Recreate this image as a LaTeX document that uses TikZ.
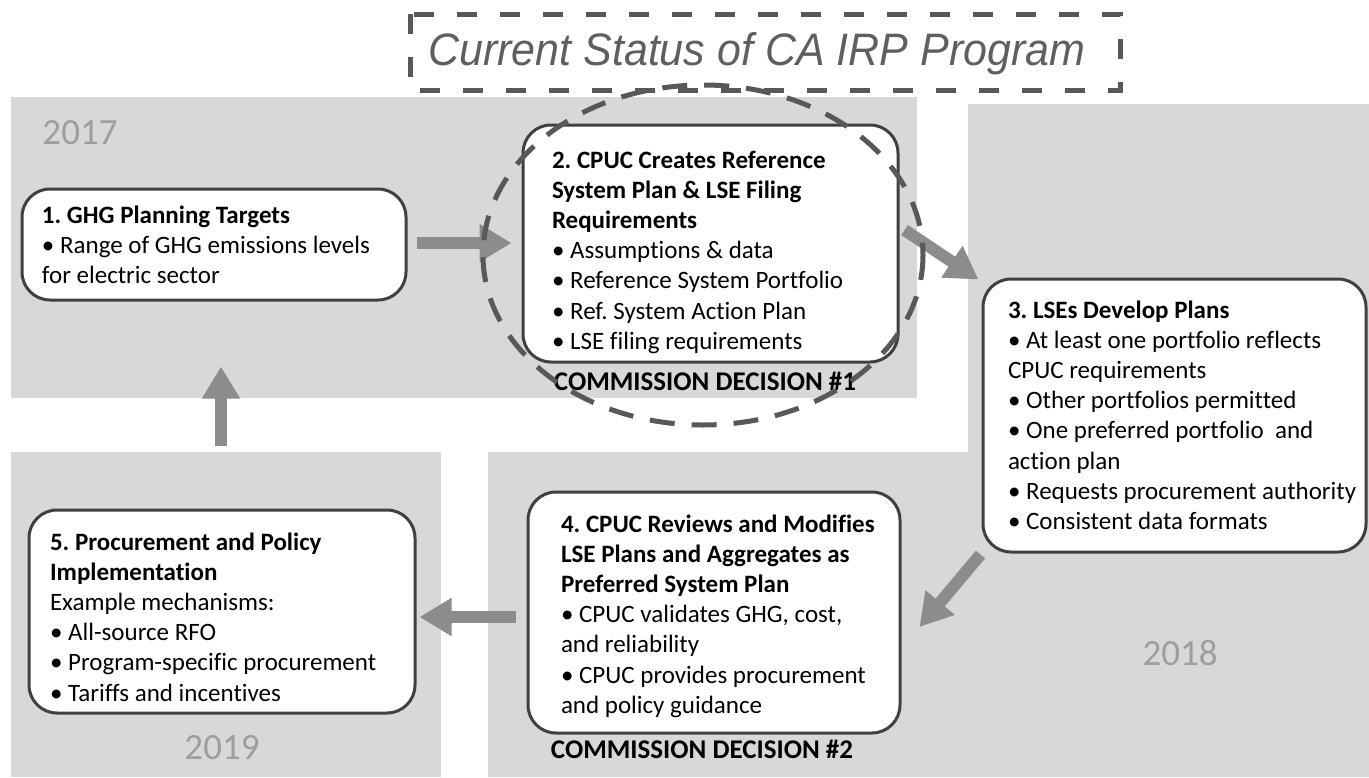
\documentclass[tikz,border=0pt]{standalone}
\usepackage{fontspec}
\setmainfont{Carlito}[Ligatures=CommonOff]
\newfontfamily\titlefont[FakeStretch=0.945]{Liberation Sans}
\usetikzlibrary{arrows.meta,calc}
\definecolor{panel}{RGB}{216,216,216}
\definecolor{edge}{RGB}{64,64,64}
\definecolor{arrgray}{RGB}{140,140,140}
\definecolor{yeargray}{RGB}{158,158,158}
\definecolor{dashgray}{RGB}{88,88,88}
\definecolor{titlegray}{RGB}{95,95,95}
\frenchspacing
\begin{document}
\begin{tikzpicture}[x=1pt,y=-1pt,
  box/.style={draw=edge,line width=3pt,fill=white,rounded corners=28pt,
    inner sep=0pt,align=flush left,font=\fontsize{25}{30.2}\selectfont},
  lpad/.style={execute at begin node={\leftskip=#1pt}},
  fat/.style={draw=arrgray,line width=12pt,-{Triangle[length=32pt,width=36pt]}},
  yr/.style={text=yeargray,font=\fontsize{37}{40}\selectfont},
  dec/.style={anchor=base,font=\fontsize{27}{30}\selectfont\bfseries}]
 \useasboundingbox (0,0) rectangle (1369,777);
 % year panels
 \fill[panel] (11,97) rectangle (917,398);
 \fill[panel] (11,452) rectangle (441,777);
 \fill[panel] (968,104) -- (1369,104) -- (1369,777) -- (488,777) -- (488,452) -- (968,452) -- cycle;
 \node[yr] (y17) at (80,133) {2017};
 \node[yr] (y18) at (1180,653) {2018};
 \node[yr] (y19) at (222,748) {2019};
 % the five steps
 \node[box,lpad=20,text width=384pt,text height=34pt,text depth=77pt] (b1) at (214,244.5)
  {\textbf{1. GHG Planning Targets}\\
   • Range of GHG emissions levels\\
   for electric sector};
 \node[box,lpad=29,text width=375pt,text height=43pt,text depth=194pt] (b2) at (710.5,243.5)
  {\textbf{2. CPUC Creates Reference}\\
   \textbf{System Plan \& LSE Filing}\\
   \textbf{Requirements}\\
   • Assumptions \& data\\
   • Reference System Portfolio\\
   • Ref. System Action Plan\\
   • LSE filing requirements};
 \node[box,lpad=25,text width=383pt,text height=39pt,text depth=234pt] (b3) at (1174.5,415.5)
  {\textbf{3. LSEs Develop Plans}\\
   • At least one portfolio reflects\\
   CPUC requirements\\
   • Other portfolios permitted\\
   • One preferred portfolio ~and\\
   action plan\\
   • Requests procurement authority\\
   • Consistent data formats};
 \node[box,lpad=33,text width=372pt,text height=40pt,text depth=201pt] (b4) at (714,612.5)
  {\textbf{4. CPUC Reviews and Modifies}\\
   \textbf{LSE Plans and Aggregates as}\\
   \textbf{Preferred System Plan}\\
   • CPUC validates GHG, cost,\\
   and reliability\\
   • CPUC provides procurement\\
   and policy guidance};
 \node[box,lpad=21,text width=386pt,text height=40pt,text depth=163pt] (b5) at (222,611.5)
  {\textbf{5. Procurement and Policy}\\
   \textbf{Implementation}\\
   Example mechanisms:\\
   • All-source RFO\\
   • Program-specific procurement\\
   • Tariffs and incentives};
 \node[dec] (d1) at (705,390) {COMMISSION DECISION \#1};
 \node[dec] (d2) at (702,758) {COMMISSION DECISION \#2};
 % arrows between steps
 \draw[fat] ($(b1.east)+(9,-1.5)$) -- ($(b2.west)+(-10,-0.5)$);
 \draw[fat] ($(b2.east)+(5,-13.5)$) -- ($(b3.north west)+(-3,2)$);
 \draw[fat] ($(b3.south west)+(-1,1)$) -- ($(b4.east)+(18,14.5)$);
 \draw[fat] ($(b4.west)+(-11,4.5)$) -- ($(b5.east)+(3,5.5)$);
 \draw[fat] ($(b5.north)+(-1,-63)$) -- ($(b1.south)+(7,65)$);
 % current step
 \draw[dashgray,line width=5pt,dash pattern=on 25pt off 17pt] (703,255) ellipse [x radius=220,y radius=170];
 % title
 \draw[dashgray,line width=5pt,dash pattern=on 20pt off 23pt] (410,14) rectangle (1120,90);
 \node[text=titlegray,anchor=base west,inner sep=0pt,
   font=\titlefont\itshape\fontsize{45.5}{50}\selectfont] (ttl) at (428,65) {Current Status of CA IRP Program};
\end{tikzpicture}
\end{document}
